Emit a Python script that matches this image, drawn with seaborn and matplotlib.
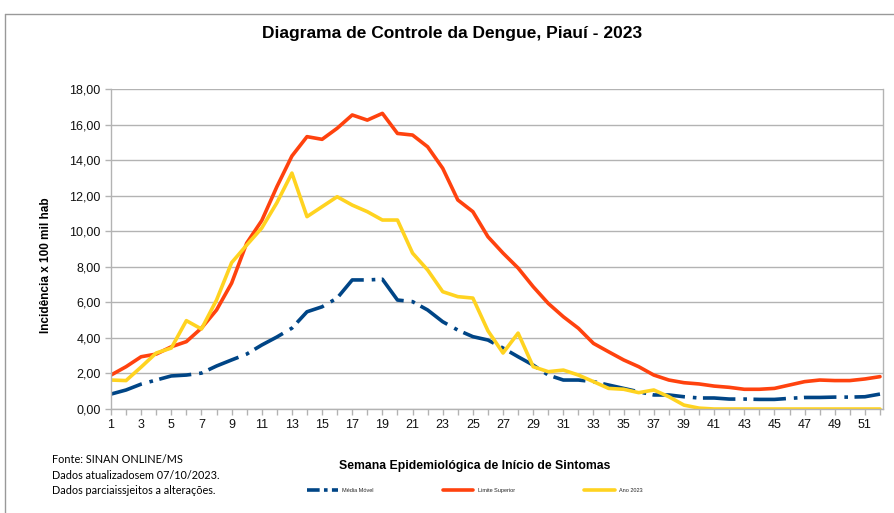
import seaborn as sns
import pandas as pd
import matplotlib.pyplot as plt
from matplotlib.ticker import MultipleLocator, FuncFormatter

# semanas epidemiologicas
semanas = list(range(1, 53))

# Media movel
media_movel = [0.84, 1.07, 1.40, 1.63, 1.86, 1.91, 2.02, 2.42, 2.76, 3.09,
               3.60, 4.05, 4.55, 5.47, 5.75, 6.24, 7.26, 7.26, 7.30, 6.13,
               6.04, 5.57, 4.91, 4.44, 4.07, 3.88, 3.43, 2.94, 2.47, 1.91,
               1.63, 1.63, 1.54, 1.35, 1.16, 0.97, 0.79, 0.79, 0.69, 0.62,
               0.62, 0.56, 0.56, 0.54, 0.54, 0.60, 0.65, 0.65, 0.67, 0.67,
               0.69, 0.84]

# Limite superior
limite_superior = [1.91, 2.38, 2.94, 3.09, 3.50, 3.79, 4.55, 5.57, 7.08, 9.33,
                   10.60, 12.50, 14.23, 15.32, 15.17, 15.79, 16.54, 16.25, 16.63, 15.50,
                   15.41, 14.75, 13.54, 11.76, 11.10, 9.69, 8.77, 7.93, 6.88, 5.94,
                   5.19, 4.54, 3.69, 3.22, 2.76, 2.38, 1.91, 1.63, 1.48, 1.41,
                   1.29, 1.22, 1.11, 1.11, 1.16, 1.35, 1.54, 1.63, 1.60, 1.60,
                   1.69, 1.82]

# Ano 2023
ano_2023 = [1.63, 1.60, 2.36, 3.15, 3.43, 4.97, 4.50, 6.13, 8.23, 9.22,
            10.18, 11.60, 13.27, 10.82, 11.38, 11.94, 11.47, 11.10, 10.63, 10.63,
            8.77, 7.82, 6.60, 6.32, 6.24, 4.40, 3.15, 4.27, 2.38, 2.10,
            2.19, 1.91, 1.54, 1.16, 1.11, 0.92, 1.07, 0.69, 0.22, 0.05,
            0.0, 0.0, 0.0, 0.0, 0.0, 0.0, 0.0, 0.0, 0.0, 0.0,
            0.0, 0.0]

sns.set_theme(style="whitegrid")
plt.rcParams['font.family'] = ['Liberation Sans', 'DejaVu Sans']

fig = plt.figure(figsize=(8.95, 5.13), dpi=100)
ax = fig.add_axes([0.124, 0.2027, 0.8626, 0.6238])

sns.lineplot(x=semanas, y=media_movel, ax=ax, color='#004586', linewidth=2.6,
             label='Média Móvel')
ax.lines[-1].set_dashes([9, 2.2, 1.0, 1.8])
sns.lineplot(x=semanas, y=limite_superior, ax=ax, color='#FF420E', linewidth=2.6,
             label='Limite Superior')
sns.lineplot(x=semanas, y=ano_2023, ax=ax, color='#FFD320', linewidth=2.6,
             label='Ano 2023')

ax.set_xlim(1, 52.2)
ax.set_ylim(0, 18)
ax.xaxis.set_minor_locator(MultipleLocator(1))
ax.yaxis.set_major_locator(MultipleLocator(2))
ax.yaxis.set_major_formatter(FuncFormatter(lambda v, p: f"{v:.2f}".replace('.', ',')))
ax.set_xticks(range(1, 53, 2))

ax.grid(axis='x', visible=False)
ax.grid(axis='y', color='#b3b3b3', linewidth=1)
for s in ax.spines.values():
    s.set_color('#b3b3b3')
    s.set_linewidth(1)
ax.spines['top'].set_visible(False)
ax.tick_params(axis='both', which='both', direction='out', length=4, color='#b3b3b3',
               labelsize=9, labelcolor='#111111', bottom=True, left=True, width=1)
ax.tick_params(axis='x', pad=3)

ax.set_xlabel('')
ax.set_ylabel('Incidência x 100 mil hab', fontsize=8.5, fontweight='bold', color='black')
ax.yaxis.set_label_coords(-0.077, 0.45)

fig.text(0.505, 0.935, 'Diagrama de Controle da Dengue, Piauí - 2023', ha='center', va='center',
         fontsize=12.5, fontweight='bold', color='black')
fig.text(0.53, 0.092, 'Semana Epidemiológica de Início de Sintomas', ha='center', va='center',
         fontsize=8.8, fontweight='bold', color='black')

notas = ['Fonte: SINAN ONLINE/MS', 'Dados atualizadosem 07/10/2023.',
         'Dados parciaissjeitos a alterações.']
for i, t in enumerate(notas):
    fig.text(0.058, 0.105 - i * 0.031, t, ha='left', va='center', fontsize=7.8,
             family='Lato', color='black')

leg = ax.legend(loc='center left', bbox_to_anchor=(0.343, 0.043), bbox_transform=fig.transFigure,
                ncol=3, frameon=False, fontsize=4, handlelength=5.5, handletextpad=0.8,
                columnspacing=12.5, borderaxespad=0, borderpad=0)
leg.get_lines()[0].set_dashes([3.5, 1.2, 1.0, 1.2])

# moldura
fig.add_artist(plt.Line2D([0.006, 1.0], [0.973, 0.973], color='#999999', linewidth=1,
                          transform=fig.transFigure))
fig.add_artist(plt.Line2D([0.006, 0.006], [0.0, 0.973], color='#999999', linewidth=1,
                          transform=fig.transFigure))

fig.savefig('out.png', dpi=100)
